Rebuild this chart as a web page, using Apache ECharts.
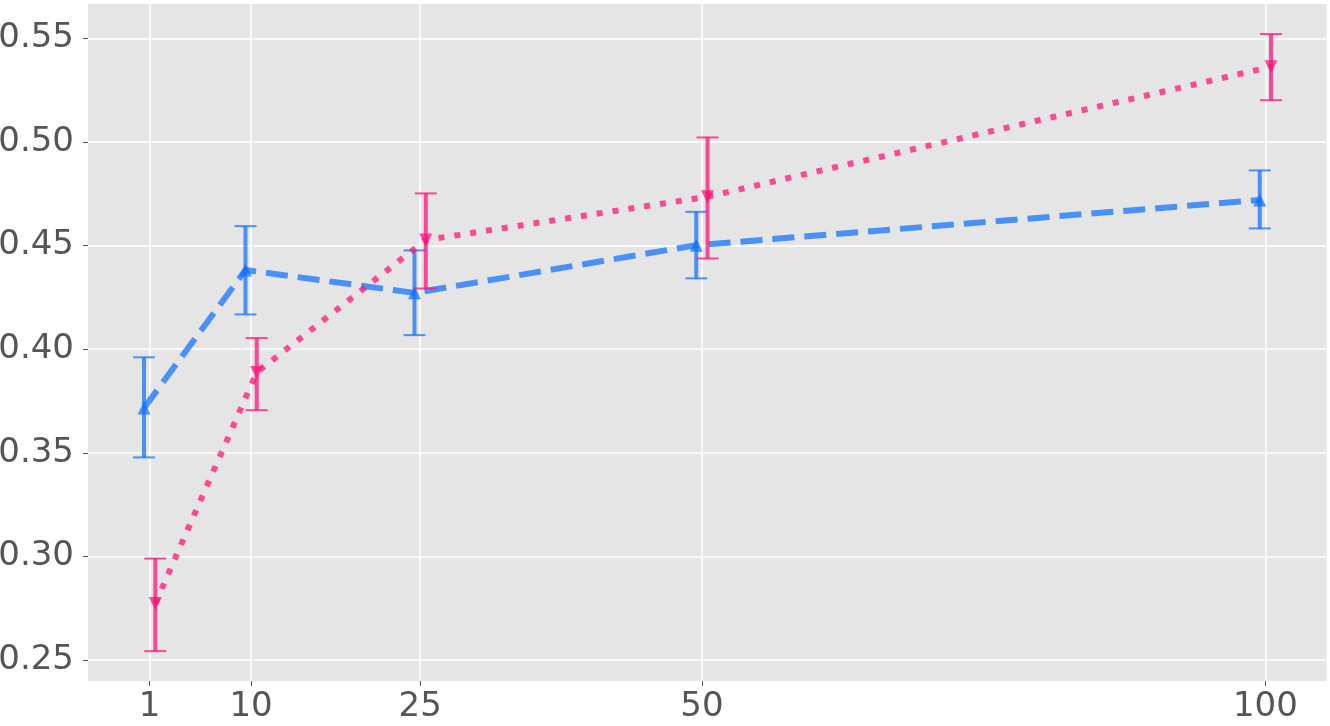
<!DOCTYPE html>
<html>
<head>
<meta charset="utf-8">
<script src="https://cdn.jsdelivr.net/npm/echarts@6/dist/echarts.min.js"></script>
<style>
  html, body { margin: 0; padding: 0; background: #ffffff; }
  #chart { width: 1330px; height: 726px; }
</style>
</head>
<body>
<div id="chart"></div>
<script>
// x positions (ticks) and per-series offsets as plotted
const xTicks = [1, 10, 25, 50, 100];
const yTicks = [0.25, 0.30, 0.35, 0.40, 0.45, 0.50, 0.55];
const blueX = [0.5, 9.5, 24.5, 49.5, 99.5];
const pinkX = [1.5, 10.5, 25.5, 50.5, 100.5];

// blue series (triangle up, dashed)
const blueMean = [0.3716, 0.4382, 0.4272, 0.4502, 0.4720];
const blueLow = [0.3478, 0.4168, 0.4068, 0.4342, 0.4583];
const blueHigh = [0.3961, 0.4594, 0.4477, 0.4663, 0.4863];

// pink series (triangle down, dotted)
const pinkMean = [0.2773, 0.3888, 0.4527, 0.4736, 0.5363];
const pinkLow = [0.2543, 0.3706, 0.4293, 0.4438, 0.5202];
const pinkHigh = [0.2990, 0.4054, 0.4752, 0.5022, 0.5521];

const blueColor = "rgba(20, 115, 255, 0.75)";
const pinkColor = "rgba(255, 20, 120, 0.75)";

let chartDom = document.getElementById("chart");
let myChart = echarts.init(chartDom, null, { renderer: "canvas" });

function errorBars(color) {
  return function (params, api) {
    let x = api.value(0);
    let top = api.coord([x, api.value(2)]);
    let bot = api.coord([x, api.value(1)]);
    let cap = 11;
    let style = { stroke: color, lineWidth: 4 };
    let capStyle = { stroke: color, lineWidth: 2 };
    return {
      type: "group",
      children: [
        { type: "line", shape: { x1: top[0], y1: top[1], x2: bot[0], y2: bot[1] }, style: style },
        { type: "line", shape: { x1: top[0] - cap, y1: top[1], x2: top[0] + cap, y2: top[1] }, style: capStyle },
        { type: "line", shape: { x1: bot[0] - cap, y1: bot[1], x2: bot[0] + cap, y2: bot[1] }, style: capStyle },
      ],
    };
  };
}

const labelStyle = {
  color: "#555555",
  fontSize: 34,
  fontFamily: "DejaVu Sans",
};

let option = {
  animation: false,
  backgroundColor: "#ffffff",
  grid: {
    left: 88,
    right: 3.3,
    top: 4,
    bottom: 45,
    show: true,
    backgroundColor: "#e5e5e5",
    borderWidth: 0,
    containLabel: false,
    outerBoundsMode: "none",
  },
  xAxis: {
    type: "value",
    min: -4.47,
    max: 105.44,
    axisLine: { show: false, onZero: false },
    axisTick: {
      show: true,
      customValues: xTicks,
      length: 5,
      lineStyle: { color: "#555555", width: 1 },
    },
    axisLabel: {
      customValues: xTicks,
      margin: 9,
      ...labelStyle,
    },
    splitLine: { show: true, lineStyle: { color: "#ffffff", width: 1.5 } },
  },
  yAxis: {
    type: "value",
    min: 0.2399,
    max: 0.5666,
    axisLine: { show: false, onZero: false },
    axisTick: {
      show: true,
      customValues: yTicks,
      length: 5,
      lineStyle: { color: "#555555", width: 1 },
    },
    axisLabel: {
      customValues: yTicks,
      margin: 14,
      formatter: (v) => v.toFixed(2),
      ...labelStyle,
    },
    splitLine: { show: true, lineStyle: { color: "#ffffff", width: 1.5 } },
  },
  series: [
    {
      name: "blue",
      type: "line",
      data: blueX.map((x, i) => [x, blueMean[i]]),
      symbol: "triangle",
      symbolSize: 13,
      showSymbol: true,
      itemStyle: { color: blueColor, borderWidth: 0 },
      lineStyle: { color: blueColor, width: 6, type: [22, 10], cap: "butt" },
      z: 3,
    },
    {
      name: "blueErr",
      type: "custom",
      data: blueX.map((x, i) => [x, blueLow[i], blueHigh[i]]),
      encode: { x: 0, y: [1, 2] },
      renderItem: errorBars(blueColor),
      z: 2,
    },
    {
      name: "pink",
      type: "line",
      data: pinkX.map((x, i) => [x, pinkMean[i]]),
      symbol: "triangle",
      symbolRotate: 180,
      symbolSize: 13,
      showSymbol: true,
      itemStyle: { color: pinkColor, borderWidth: 0 },
      lineStyle: { color: pinkColor, width: 6, type: [6, 10], cap: "butt" },
      z: 5,
    },
    {
      name: "pinkErr",
      type: "custom",
      data: pinkX.map((x, i) => [x, pinkLow[i], pinkHigh[i]]),
      encode: { x: 0, y: [1, 2] },
      renderItem: errorBars(pinkColor),
      z: 4,
    },
  ],
};

option && myChart.setOption(option);
</script>
</body>
</html>
